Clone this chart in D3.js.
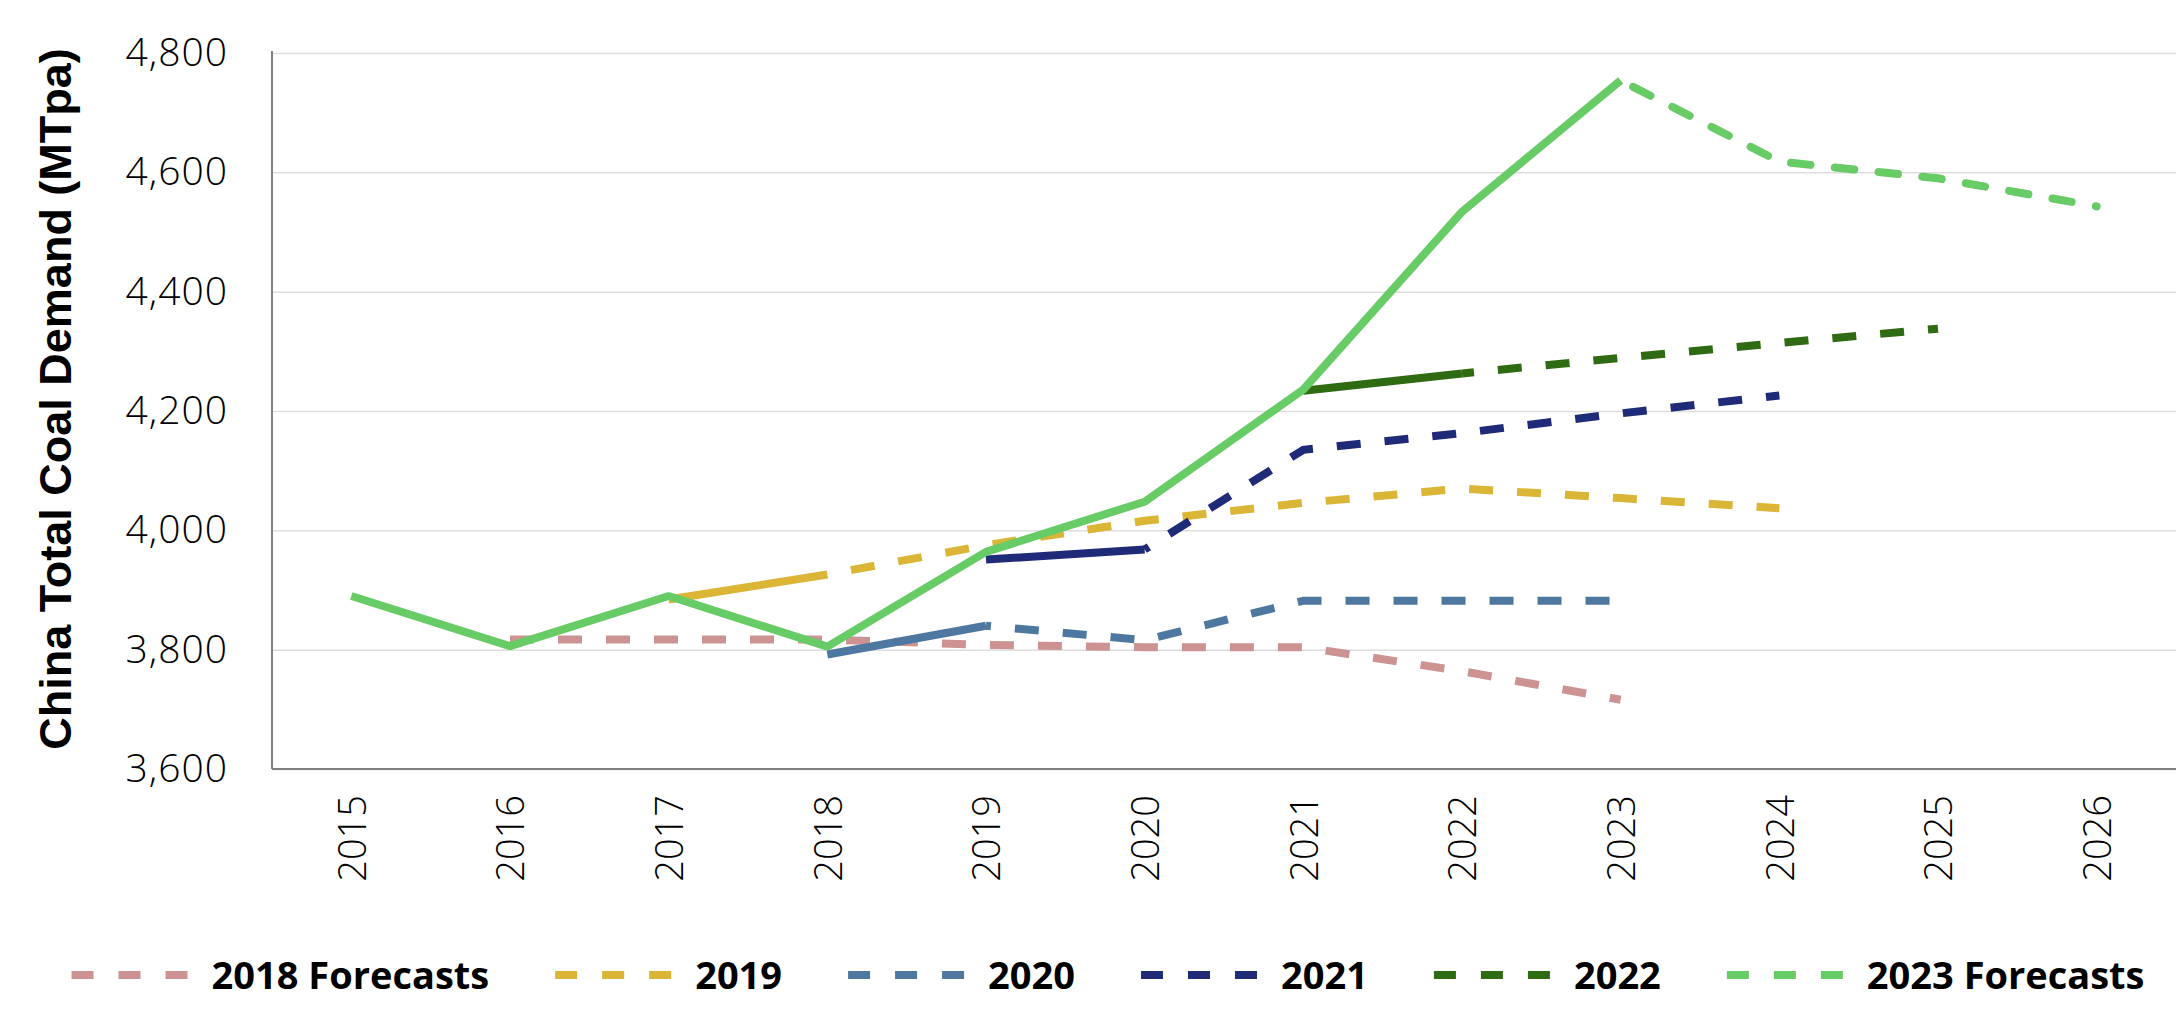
<!DOCTYPE html>
<html>
<head>
<meta charset="utf-8">
<script src="https://cdn.jsdelivr.net/npm/d3@7"></script>
<style>
  html, body { margin: 0; padding: 0; background: #fff; }
  svg { display: block; }
</style>
</head>
<body>
<div id="chart"></div>
<script>
// x categories and y ticks
var years = ["2015", "2016", "2017", "2018", "2019", "2020", "2021", "2022", "2023", "2024", "2025", "2026"];
var yTicks = [3600, 3800, 4000, 4200, 4400, 4600, 4800];

// forecasts by publication year (MTpa), null = no value
var demand2018 = [null, 3817, 3817, 3817, 3808, 3804, 3804, 3764, 3716, null, null, null];
var demand2019 = [null, null, 3884, 3926, 3975, 4016, 4046, 4070, 4054, 4037, null, null];
var demand2020 = [null, null, null, 3792, 3840, 3816, 3882, 3882, 3882, null, null, null];
var demand2021 = [null, null, null, null, 3951, 3968, 4135, 4163, 4196, 4226, null, null];
var demand2022 = [null, null, null, null, null, null, 4234, 4263, 4289, 4314, 4338, null];
var demand2023 = [3890, 3806, 3890, 3805, 3964, 4048, 4236, 4534, 4754, 4618, 4590, 4543];

// last year shown as actual (solid), later years are dashed
var seriesNames = ["2018 Forecasts", "2019", "2020", "2021", "2022", "2023 Forecasts"];
var seriesValues = [demand2018, demand2019, demand2020, demand2021, demand2022, demand2023];
var actualEnd = ["2016", "2018", "2019", "2020", "2022", "2023"];
var colors = ["#cd9393", "#dbb536", "#4f78a0", "#1f2a78", "#2e6b12", "#68cc66"];
var dashOffsets = [0, 24, 19, 19, 12, 30];

var width = 2176;
var height = 1032;
var plotLeft = 272, plotRight = 2176, plotTop = 53, plotBottom = 769;
var tickFont = "'Open Sans', Lato, sans-serif";

var svg = d3.select("#chart")
    .append("svg")
    .attr("width", width)
    .attr("height", height);

var x = d3.scalePoint()
    .domain(years)
    .range([plotLeft, plotRight])
    .padding(0.5);

var y = d3.scaleLinear()
    .domain([3600, 4800])
    .range([plotBottom, plotTop]);

// grid lines
svg.append("g")
    .attr("transform", "translate(" + plotLeft + ",0)")
    .call(d3.axisLeft(y).tickValues(yTicks).tickSize(-(plotRight - plotLeft)).tickFormat(""))
    .call(function(g) { g.select(".domain").remove(); })
    .selectAll("line")
    .attr("stroke", "#dedede")
    .attr("stroke-width", 1.5);

// y axis labels
var yAxis = svg.append("g")
    .attr("transform", "translate(" + plotLeft + ",0)")
    .call(d3.axisLeft(y).tickValues(yTicks).tickSize(0).tickPadding(44).tickFormat(d3.format(",")));
yAxis.select(".domain").remove();
yAxis.selectAll("text")
    .style("font-family", tickFont)
    .style("font-weight", 300)
    .style("font-size", "39px")
    .style("letter-spacing", "1px")
    .attr("fill", "#000");

// x axis labels (rotated)
var xAxis = svg.append("g")
    .attr("transform", "translate(0," + plotBottom + ")")
    .call(d3.axisBottom(x).tickSize(0));
xAxis.select(".domain").remove();
xAxis.selectAll("text")
    .attr("transform", "rotate(-90)")
    .attr("x", -26)
    .attr("y", 0)
    .attr("dy", "0.36em")
    .attr("text-anchor", "end")
    .style("font-family", tickFont)
    .style("font-weight", 300)
    .style("font-size", "38px")
    .attr("fill", "#000");

// axis lines
svg.append("line")
    .attr("x1", plotLeft).attr("x2", plotLeft)
    .attr("y1", plotTop - 2).attr("y2", plotBottom)
    .attr("stroke", "#808080").attr("stroke-width", 2);
svg.append("line")
    .attr("x1", plotLeft).attr("x2", plotRight)
    .attr("y1", plotBottom).attr("y2", plotBottom)
    .attr("stroke", "#808080").attr("stroke-width", 2);

// y axis title
svg.append("text")
    .attr("transform", "translate(71,399) rotate(-90)")
    .attr("text-anchor", "middle")
    .style("font-family", "'Liberation Sans', Arial, sans-serif")
    .style("font-weight", "bold")
    .style("font-size", "45px")
    .text("China Total Coal Demand (MTpa)");

var line = d3.line()
    .defined(function(d) { return d.value != null; })
    .x(function(d) { return x(d.year); })
    .y(function(d) { return y(d.value); });

var lines = svg.append("g");

seriesNames.forEach(function(name, i) {
    var pts = years.map(function(yr, j) {
        return { year: yr, value: seriesValues[i][j] };
    }).filter(function(d) { return d.value != null; });

    var solid = pts.filter(function(d) { return +d.year <= +actualEnd[i]; });
    var dashed = pts.filter(function(d) { return +d.year >= +actualEnd[i]; });
    var isLast = i === seriesNames.length - 1;

    if (solid.length > 1) {
        lines.append("path")
            .datum(solid)
            .attr("d", line)
            .attr("fill", "none")
            .attr("stroke", colors[i])
            .attr("stroke-width", 8)
            .attr("stroke-linejoin", "bevel");
    }
    if (dashed.length > 1) {
        lines.append("path")
            .datum(dashed)
            .attr("d", line)
            .attr("fill", "none")
            .attr("stroke", colors[i])
            .attr("stroke-width", 8)
            .attr("stroke-linecap", isLast ? "round" : "butt")
            .attr("stroke-dasharray", isLast ? "19.5,24.5" : "24,24")
            .attr("stroke-dashoffset", dashOffsets[i]);
    }
});

// legend
var legend = svg.append("g");
var legendY = 975;
var cursor = 0;
seriesNames.forEach(function(name, i) {
    var g = legend.append("g");
    g.append("line")
        .attr("x1", 0).attr("x2", 116)
        .attr("y1", legendY).attr("y2", legendY)
        .attr("stroke", colors[i])
        .attr("stroke-width", 8)
        .attr("stroke-dasharray", "22,25");
    var t = g.append("text")
        .attr("x", 140)
        .attr("y", legendY + 14)
        .style("font-family", tickFont)
        .style("font-weight", 700)
        .style("font-size", "38px")
        .attr("fill", "#000")
        .text(name);
    var w = 140 + t.node().getComputedTextLength();
    g.attr("transform", "translate(" + cursor + ",0)");
    cursor += w + 66;
});
var total = cursor - 66;
legend.attr("transform", "translate(" + (1108 - total / 2) + ",0)");
</script>
</body>
</html>
